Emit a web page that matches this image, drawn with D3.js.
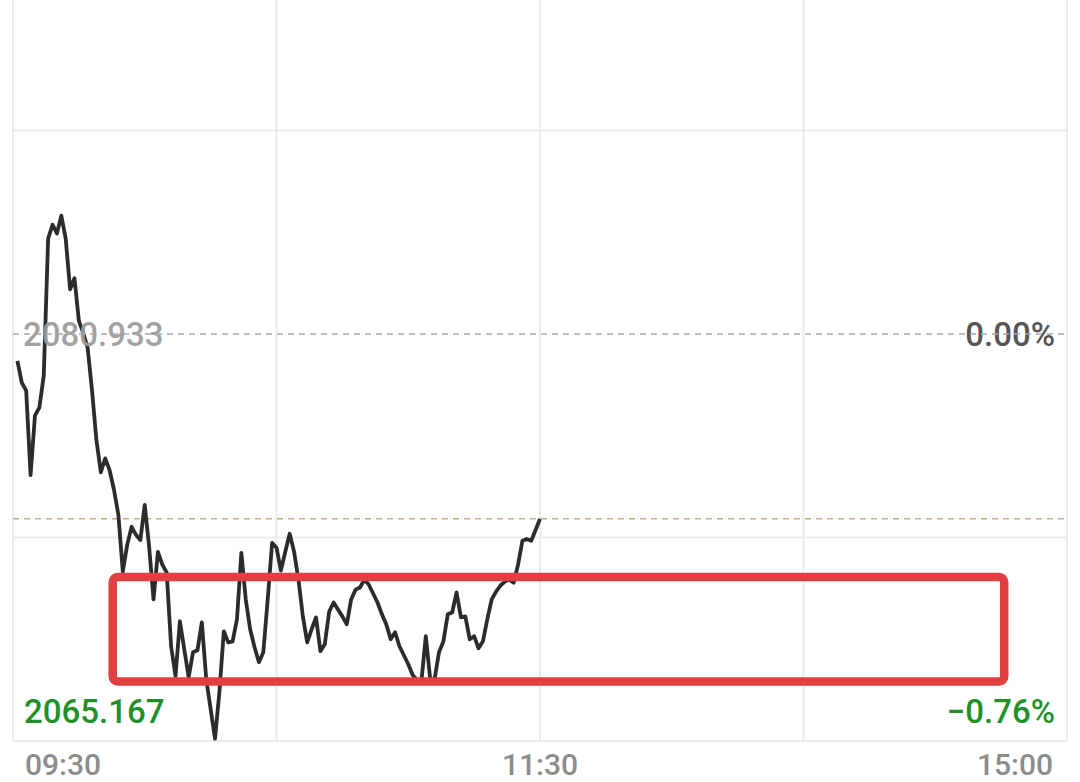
<!DOCTYPE html>
<html>
<head>
<meta charset="utf-8">
<script src="https://cdn.jsdelivr.net/npm/d3@7"></script>
<style>
  html, body { margin: 0; padding: 0; background: #ffffff; }
  svg { display: block; }
</style>
</head>
<body>
<script>
// ---- data ----
const prevClose = 2080.933;           // reference price (0.00%)
const rangePct = 0.0076;              // chart half-range (±0.76%)
const lowLabel = "2065.167";
const midLabel = "2080.933";
const midPctLabel = "0.00%";
const lowPctLabel = "−0.76%";
const timeTickIdx = [0, 120, 240];
const timeTickLabels = ["09:30", "11:30", "15:00"];
const vGridIdx = [0, 60, 120, 180, 240];
// one value per trading minute, 09:31 .. 11:30
const prices = [
  2079.89, 2079.04, 2078.73, 2075.45, 2077.76, 2078.07, 2079.31, 2084.64, 2085.18, 2084.84,
  2085.53, 2084.64, 2082.67, 2083.10, 2081.44, 2080.97, 2080.39, 2078.73, 2076.80, 2075.56,
  2076.10, 2075.64, 2074.87, 2073.90, 2071.70, 2072.74, 2073.44, 2073.13, 2072.93, 2074.29,
  2072.66, 2070.62, 2072.47, 2071.97, 2071.66, 2068.80, 2067.64, 2069.77, 2068.68, 2067.60,
  2068.57, 2068.64, 2069.73, 2067.52, 2066.36, 2065.21, 2067.02, 2069.38, 2068.95, 2068.99,
  2069.84, 2072.43, 2070.62, 2069.46, 2068.76, 2068.18, 2068.57, 2070.62, 2072.82, 2072.63,
  2071.74, 2072.47, 2073.17, 2072.47, 2071.39, 2069.96, 2068.95, 2069.46, 2069.92, 2068.61,
  2068.88, 2070.15, 2070.50, 2070.23, 2069.96, 2069.65, 2070.62, 2071.00, 2071.08, 2071.39,
  2071.20, 2070.85, 2070.50, 2070.04, 2069.65, 2069.07, 2069.34, 2068.80, 2068.45, 2068.10,
  2067.68, 2067.49, 2067.45, 2069.19, 2067.52, 2067.52, 2068.57, 2068.99, 2070.04, 2070.11,
  2070.89, 2069.92, 2069.96, 2069.07, 2069.19, 2068.72, 2068.99, 2069.84, 2070.62, 2070.92,
  2071.16, 2071.31, 2071.39, 2071.27, 2071.97, 2072.90, 2072.97, 2072.90, 2073.32, 2073.75
];
// highlight box annotation: [start minute, end minute], [low price, high price]
const boxMinutes = [22.7, 225.7];
const boxPrices = [2067.43, 2071.49];

// ---- chart ----
const W = 1080, H = 782;
const svg = d3.select("body").append("svg").attr("width", W).attr("height", H);

const lo = prevClose * (1 - rangePct), hi = prevClose * (1 + rangePct);
const x = d3.scaleLinear().domain([0, 240]).range([13, 1067]);
const y = d3.scaleLinear().domain([lo, hi]).range([741, -73]);

const gridColor = "#ebebeb";
const font = "Roboto, 'DejaVu Sans', sans-serif";

// vertical grid
svg.append("g").selectAll("line").data(vGridIdx).join("line")
  .attr("x1", d => x(d)).attr("x2", d => x(d))
  .attr("y1", 0).attr("y2", y(lo))
  .attr("stroke", gridColor).attr("stroke-width", 2);

// horizontal grid (quarter steps), excluding the middle which is dashed
const hLevels = [lo, (lo + prevClose) / 2, (prevClose + hi) / 2];
svg.append("g").selectAll("line").data(hLevels).join("line")
  .attr("x1", x(0)).attr("x2", x(240))
  .attr("y1", d => y(d)).attr("y2", d => y(d))
  .attr("stroke", gridColor).attr("stroke-width", 2);

// last price dashed line
const last = prices[prices.length - 1];
svg.append("line")
  .attr("x1", x(0)).attr("x2", x(240))
  .attr("y1", y(last)).attr("y2", y(last))
  .attr("stroke", "#c4b08e").attr("stroke-width", 1.5)
  .attr("stroke-dasharray", "6,5");

// price line
const line = d3.line().x((d, i) => x(i + 1)).y(d => y(d));
svg.append("path").datum(prices)
  .attr("d", line)
  .attr("fill", "none")
  .attr("stroke", "#2c2c2c")
  .attr("stroke-width", 3.8)
  .attr("stroke-linejoin", "round");

// labels
svg.append("text").text(midLabel)
  .attr("x", 23).attr("y", y(prevClose) + 12)
  .attr("font-family", font).attr("font-size", 33).attr("font-weight", 500)
  .attr("fill", "#9b9b9b").attr("fill-opacity", 0.95);
svg.append("text").text(midPctLabel)
  .attr("x", 1055).attr("y", y(prevClose) + 12).attr("text-anchor", "end")
  .attr("font-family", font).attr("font-size", 33).attr("font-weight", 500)
  .attr("fill", "#555555");
svg.append("text").text(lowLabel)
  .attr("x", 24).attr("y", 723)
  .attr("font-family", font).attr("font-size", 33).attr("font-weight", 500)
  .attr("fill", "#1f9128");
svg.append("text").text(lowPctLabel)
  .attr("x", 1055).attr("y", 723).attr("text-anchor", "end")
  .attr("font-family", font).attr("font-size", 33).attr("font-weight", 500)
  .attr("fill", "#1f9128");

// dashed middle reference line drawn over the labels (strike-through look)
svg.append("line")
  .attr("x1", x(0)).attr("x2", x(240))
  .attr("y1", y(prevClose)).attr("y2", y(prevClose))
  .attr("stroke", "#a9a9a9").attr("stroke-width", 1.6)
  .attr("stroke-dasharray", "6,5");

// time axis labels
svg.append("g").selectAll("text").data(timeTickIdx).join("text")
  .text((d, i) => timeTickLabels[i])
  .attr("x", (d, i) => i === 0 ? 25 : (i === timeTickIdx.length - 1 ? 1053 : x(d)))
  .attr("y", 775)
  .attr("text-anchor", (d, i) => i === 0 ? "start" : (i === timeTickIdx.length - 1 ? "end" : "middle"))
  .attr("font-family", font).attr("font-size", 30).attr("font-weight", 500)
  .attr("fill", "#8c8c8c");

// red highlight box
svg.append("rect")
  .attr("x", x(boxMinutes[0])).attr("y", y(boxPrices[1]))
  .attr("width", x(boxMinutes[1]) - x(boxMinutes[0]))
  .attr("height", y(boxPrices[0]) - y(boxPrices[1]))
  .attr("rx", 5).attr("ry", 5)
  .attr("fill", "none")
  .attr("stroke", "#e0403f")
  .attr("stroke-width", 8.5);
</script>
</body>
</html>
